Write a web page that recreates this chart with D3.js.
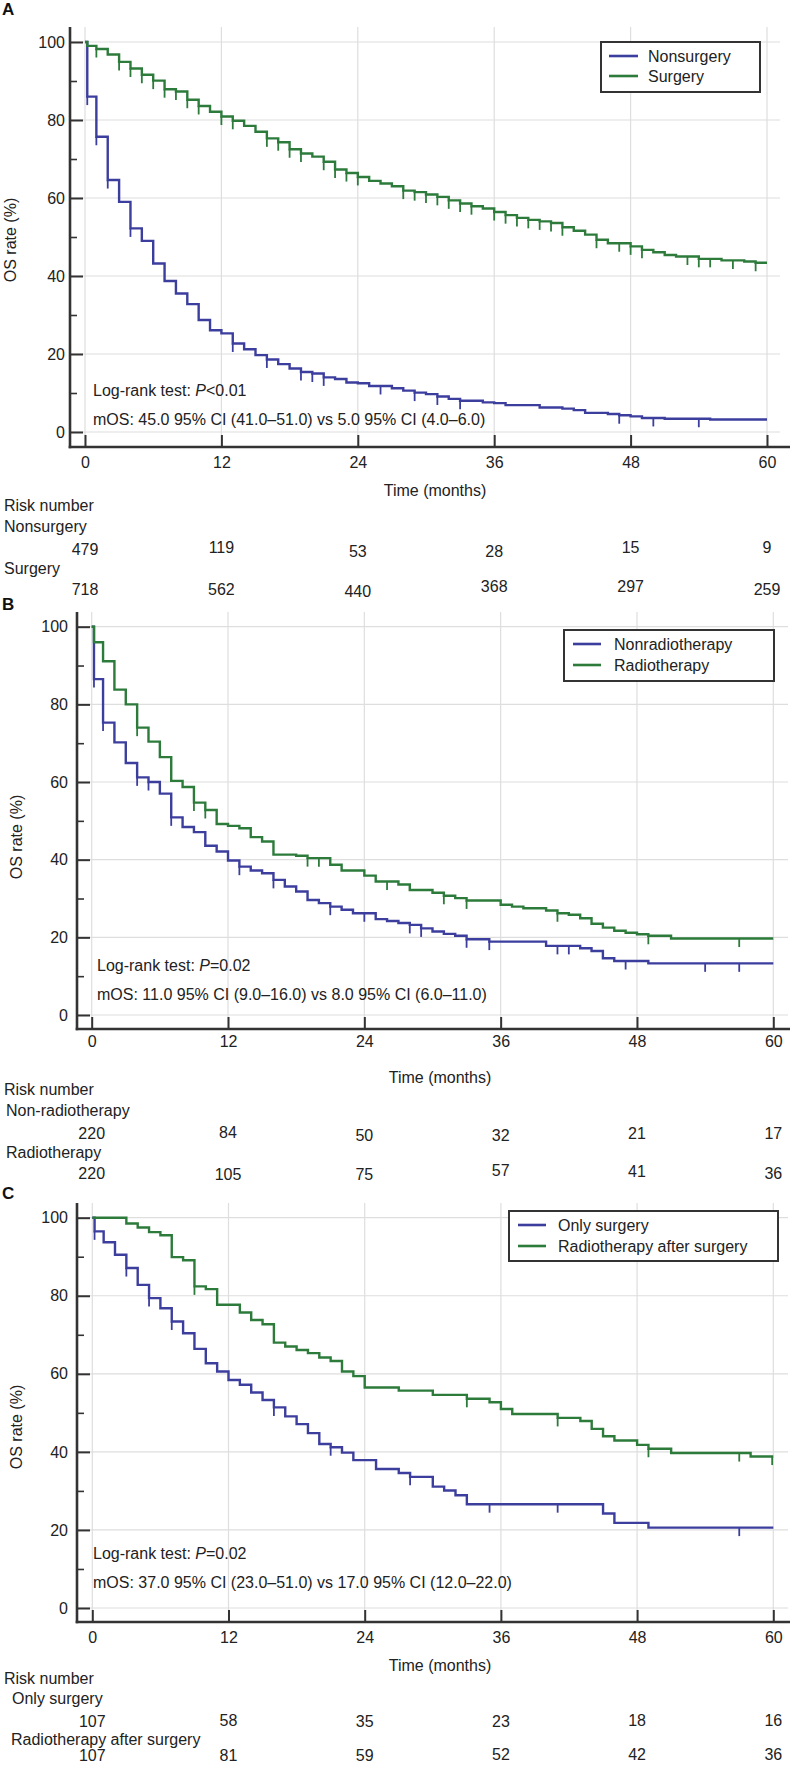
<!DOCTYPE html>
<html><head><meta charset="utf-8">
<script src="https://cdn.jsdelivr.net/npm/d3@7"></script>
<style>
body{margin:0;background:#fff;}
svg{display:block;font-family:"Liberation Sans",Arial,Helvetica,sans-serif;}
</style></head><body>
<svg id="chart" width="790" height="1765"></svg>
<script>
// ---------- shared ticks ----------
const xTicks=[0,12,24,36,48,60];
const yTicks=[0,20,40,60,80,100];
const yMinorTicks=[10,30,50,70,90];

// ---------- Panel A ----------
const aLegendLabels=["Nonsurgery","Surgery"];
const aRiskLabels=["Nonsurgery","Surgery"];
const aNonsurgTime=[0.2,1,2,3,4,5,6,7,8,9,10,11,12,13,14,15,16,17,18,19,20,21,22,23,24,25,27,28,29,30,31,32,33,35,36,37,40,42,43,44,46,47,48,49,51,55];
const aNonsurgSurv=[86.0,75.7,64.6,59.0,52.2,49.0,43.2,38.7,35.5,32.8,28.7,26.1,25.3,22.7,21.2,19.7,18.6,17.4,16.3,15.4,15.0,14.0,13.6,12.7,12.5,11.8,11.2,10.6,10.1,9.7,9.1,8.5,8.0,7.6,7.4,6.9,6.3,6.0,5.6,4.9,4.6,4.3,4.0,3.6,3.4,3.2];
const aNonsurgCensor=[0.2,1,2,4,13,16,19,20,21,26,29,31,33,47,50,54];
const aSurgTime=[0.2,1,2,3,4,5,6,7,8,9,10,11,12,13,14,15,16,17,18,19,20,21,22,23,24,25,26,27,28,29,30,31,32,33,34,35,36,37,38,39,40,41,42,43,44,45,46,48,49,50,51,52,54,56,58,59];
const aSurgSurv=[99,98.2,96.8,94.9,93.2,91.6,90.1,87.9,87.3,85.2,83.6,82.1,80.9,79.8,78.5,77.0,75.3,74.3,72.5,71.4,70.6,69.3,67.3,66.4,65.4,64.4,63.7,63.0,61.9,61.5,60.9,60.3,59.4,58.6,57.9,57.3,56.4,55.6,54.9,54.4,54.0,53.6,52.5,51.6,50.6,49.3,48.4,47.6,46.7,46.1,45.4,45.0,44.4,44.0,43.7,43.4];
const aSurgCensor=[1,3,4,5,6,7,8,9,10,12,13,16,17,18,19,21,22,23,24,28,29,30,31,32,33,34,36,37,38,39,40,41,42,45,47,48,49,53,54,55,57,59];
const aRisk1=[479,119,53,28,15,9];
const aRisk2=[718,562,440,368,297,259];
const aP="<0.01";
const aMOS="mOS: 45.0 95% CI (41.0\u201351.0) vs 5.0 95% CI (4.0\u20136.0)";

// ---------- Panel B ----------
const bLegendLabels=["Nonradiotherapy","Radiotherapy"];
const bRiskLabels=["Non-radiotherapy","Radiotherapy"];
const bNonradTime=[0.2,1,2,3,4,5,6,7,8,9,10,11,12,13,14,15,16,17,18,19,20,21,22,23,25,26,27,28,29,30,31,32,33,35,40,43,44,45,46,49];
const bNonradSurv=[86.5,75.3,70.2,64.9,61.2,60.0,57.0,50.9,48.4,47.1,43.6,42.1,39.8,38.2,37.2,36.5,34.8,33.1,31.8,29.6,28.8,27.9,27.1,26.2,24.7,24.2,23.7,23.2,22.3,21.5,20.9,20.4,19.5,18.9,17.8,17.2,16.5,14.6,13.9,13.3];
const bNonradCensor=[0.2,1,4,5,7,13,16,21,24,28,29,33,35,41,42,47,54,57];
const bRadTime=[0.2,1,2,3,4,5,6,7,8,9,10,11,12,13,14,15,16,18,19,21,22,24,25,27,28,30,31,32,33,36,37,38,40,41,42,43,44,45,46,47,48,49,51];
const bRadSurv=[96.0,91.1,83.8,80.0,74.0,70.4,66.4,60.3,58.7,54.7,52.8,49.2,48.7,48.1,45.8,44.7,41.3,41.0,40.4,38.7,37.2,35.9,34.4,33.6,32.2,31.5,30.7,30.1,29.5,28.4,27.9,27.5,26.9,26.2,25.8,24.9,23.5,22.5,21.7,21.2,20.8,20.4,19.7];
const bRadCensor=[4,9,10,19,20,26,31,33,41,49,57];
const bRisk1=[220,84,50,32,21,17];
const bRisk2=[220,105,75,57,41,36];
const bP="=0.02";
const bMOS="mOS: 11.0 95% CI (9.0\u201316.0) vs 8.0 95% CI (6.0\u201311.0)";

// ---------- Panel C ----------
const cLegendLabels=["Only surgery","Radiotherapy after surgery"];
const cRiskLabels=["Only surgery","Radiotherapy after surgery"];
const cOnlyTime=[0.2,1,2,3,4,5,6,7,8,9,10,11,12,13,14,15,16,17,18,19,20,21,22,23,25,27,28,30,31,32,33,45,46,49];
const cOnlySurv=[96.5,93.7,90.5,87.1,82.8,79.4,76.8,73.4,70.4,66.4,62.7,60.6,58.4,57.2,55.2,53.3,51.4,49.1,47.1,44.8,42.0,41.2,39.8,37.9,35.6,34.6,33.6,31.1,30.1,28.9,26.6,24.2,21.8,20.6];
const cOnlyCensor=[0.2,3,5,7,16,21,28,35,41,57];
const cRadTime=[3,4,5,6,7,8,9,10,11,13,14,15,16,17,18,19,20,21,22,23,24,27,30,33,35,36,37,41,43,44,45,46,48,49,51,58];
const cRadSurv=[98.5,97.5,96.3,95.5,89.9,89.1,82.4,81.7,77.7,75.7,73.8,72.7,68.0,67.0,66.1,65.3,64.2,63.3,60.6,59.4,56.5,55.7,54.6,53.6,52.7,51.0,49.7,48.7,47.9,45.9,44.0,42.9,41.8,40.8,39.7,38.8];
const cRadCensor=[9,33,41,49,57,59.9];
const cRisk1=[107,58,35,23,18,16];
const cRisk2=[107,81,59,52,42,36];
const cP="=0.02";
const cMOS="mOS: 37.0 95% CI (23.0\u201351.0) vs 17.0 95% CI (12.0\u201322.0)";

// ---------- styles ----------
const BLUE="#3c3e9e", GREEN="#2d7b3b", AXIS="#333", GRID="#dedede", TXT="#222";

const panels=[
 {letter:"A", legend:aLegendLabels, riskLabels:aRiskLabels, p:aP, mos:aMOS, risk:[aRisk1,aRisk2],
  series:[{t:aNonsurgTime,s:aNonsurgSurv,c:aNonsurgCensor,col:BLUE},{t:aSurgTime,s:aSurgSurv,c:aSurgCensor,col:GREEN}],
  L:{letterY:15, axisX:70, x0:85, x60:767, y0:432, y100:42, top:27, axisY:447, gridRight:780, yGap:5,
     xLab:462, timeX:435, timeY:490, titleX:10, titleY:240, textX:93, logY:390, mosY:419,
     riskY:505, g1Y:526, r1Y:549, g2Y:568, r2Y:589, g1X:4, g2X:4,
     j1:[0,-2,2,2,-2,-2], j2:[0,0,2,-3,-3,0],
     lg:{x:601,y:42,w:159,h:50,lx1:609,lx2:638,tx:648,ly1:56,ly2:76}}},
 {letter:"B", legend:bLegendLabels, riskLabels:bRiskLabels, p:bP, mos:bMOS, risk:[bRisk1,bRisk2],
  series:[{t:bNonradTime,s:bNonradSurv,c:bNonradCensor,col:BLUE},{t:bRadTime,s:bRadSurv,c:bRadCensor,col:GREEN}],
  L:{letterY:610, axisX:77, x0:91.7, x60:773.3, y0:1015, y100:626.7, top:612, axisY:1029, gridRight:788, yGap:9,
     xLab:1041, timeX:440, timeY:1077, titleX:16, titleY:837, textX:97, logY:965, mosY:994,
     riskY:1089, g1Y:1110, r1Y:1133, g2Y:1152, r2Y:1173, g1X:6, g2X:6,
     j1:[0,-1,2,2,0,0], j2:[0,1,1,-3,-2,0],
     lg:{x:564,y:630,w:210,h:51,lx1:573,lx2:601,tx:614,ly1:644,ly2:665}}},
 {letter:"C", legend:cLegendLabels, riskLabels:cRiskLabels, p:cP, mos:cMOS, risk:[cRisk1,cRisk2],
  series:[{t:cOnlyTime,s:cOnlySurv,c:cOnlyCensor,col:BLUE},{t:cRadTime,s:cRadSurv,c:cRadCensor,col:GREEN}],
  L:{letterY:1199, axisX:77, x0:92.3, x60:773.3, y0:1608, y100:1217.7, top:1203, axisY:1622, gridRight:788, yGap:9,
     xLab:1637, timeX:440, timeY:1665, titleX:16, titleY:1427, textX:93, logY:1553, mosY:1582,
     riskY:1678, g1Y:1698, r1Y:1721, g2Y:1739, r2Y:1755, g1X:12, g2X:11,
     j1:[0,-1,0,0,-1,-1], j2:[0,0,0,-1,-1,-1],
     lg:{x:509,y:1211,w:269,h:50,lx1:518,lx2:546,tx:558,ly1:1225,ly2:1246}}}
];

const svg=d3.select("#chart");
const FS=16;

function survAt(T,S,t){let v=100;for(let i=0;i<T.length;i++){if(T[i]<=t)v=S[i];}return v;}

panels.forEach(P=>{
  const L=P.L;
  const g=svg.append("g");
  const x=d3.scaleLinear().domain([0,60]).range([L.x0,L.x60]);
  const y=d3.scaleLinear().domain([0,100]).range([L.y0,L.y100]);

  // panel letter
  g.append("text").attr("x",2).attr("y",L.letterY).attr("font-size",17).attr("font-weight","bold")
   .attr("fill","#111").text(P.letter);

  // grid
  g.append("g").selectAll("line").data(xTicks).join("line")
   .attr("x1",d=>x(d)).attr("x2",d=>x(d)).attr("y1",L.top).attr("y2",L.axisY)
   .attr("stroke",GRID).attr("stroke-width",1.2);
  g.append("g").selectAll("line").data(yTicks).join("line")
   .attr("x1",L.axisX).attr("x2",L.gridRight).attr("y1",d=>y(d)).attr("y2",d=>y(d))
   .attr("stroke",GRID).attr("stroke-width",1.2);

  // curves
  const line=d3.line().x(d=>x(d[0])).y(d=>y(d[1])).curve(d3.curveStepAfter);
  P.series.forEach(se=>{
    const pts=[[0,100]].concat(se.t.map((t,i)=>[t,se.s[i]]));
    pts.push([60,se.s[se.s.length-1]]);
    g.append("path").datum(pts).attr("d",line).attr("fill","none")
     .attr("stroke",se.col).attr("stroke-width",2.4).attr("stroke-linejoin","miter");
    g.append("g").selectAll("line").data(se.c).join("line")
     .attr("x1",d=>x(d)).attr("x2",d=>x(d))
     .attr("y1",d=>y(survAt(se.t,se.s,d))).attr("y2",d=>y(survAt(se.t,se.s,d))+8.5)
     .attr("stroke",se.col).attr("stroke-width",1.8);
  });

  // y axis (ticks pointing inward)
  const yAx=d3.axisLeft(y).tickValues(yTicks).tickSize(-13).tickPadding(L.yGap).tickFormat(d3.format("d"));
  const ya=g.append("g").attr("transform",`translate(${L.axisX},0)`).call(yAx);
  ya.select(".domain").remove();
  ya.selectAll(".tick line").attr("stroke",AXIS).attr("stroke-width",2);
  ya.selectAll(".tick text").attr("font-size",FS).attr("font-family",null).attr("fill",TXT);
  const yMin=d3.axisLeft(y).tickValues(yMinorTicks).tickSize(-7).tickFormat("");
  const ym=g.append("g").attr("transform",`translate(${L.axisX},0)`).call(yMin);
  ym.select(".domain").remove();
  ym.selectAll(".tick line").attr("stroke",AXIS).attr("stroke-width",1.6);

  // x axis (ticks pointing up)
  const xAx=d3.axisBottom(x).tickValues(xTicks).tickSize(-12).tickPadding(0).tickFormat(d3.format("d"));
  const xa=g.append("g").attr("transform",`translate(0,${L.axisY})`).call(xAx);
  xa.select(".domain").remove();
  xa.selectAll(".tick line").attr("stroke",AXIS).attr("stroke-width",2);
  xa.selectAll(".tick text").attr("font-size",FS).attr("font-family",null).attr("fill",TXT)
    .attr("y",L.xLab-L.axisY).attr("dy","0.35em");

  // axis lines
  g.append("line").attr("x1",L.axisX).attr("x2",L.axisX).attr("y1",L.top).attr("y2",L.axisY+1.3)
   .attr("stroke",AXIS).attr("stroke-width",2.6);
  g.append("line").attr("x1",L.axisX-1.3).attr("x2",790).attr("y1",L.axisY).attr("y2",L.axisY)
   .attr("stroke",AXIS).attr("stroke-width",2.6);

  // axis titles
  g.append("text").attr("transform",`translate(${L.titleX},${L.titleY}) rotate(-90)`)
   .attr("text-anchor","middle").attr("dy","0.35em").attr("font-size",FS).attr("fill",TXT).text("OS rate (%)");
  g.append("text").attr("x",L.timeX).attr("y",L.timeY).attr("dy","0.35em").attr("text-anchor","middle")
   .attr("font-size",FS).attr("fill",TXT).text("Time (months)");

  // stats text
  const lr=g.append("text").attr("x",L.textX).attr("y",L.logY).attr("dy","0.35em").attr("font-size",FS).attr("fill",TXT);
  lr.append("tspan").text("Log-rank test: ");
  lr.append("tspan").attr("font-style","italic").text("P");
  lr.append("tspan").text(P.p);
  g.append("text").attr("x",L.textX).attr("y",L.mosY).attr("dy","0.35em").attr("font-size",FS).attr("fill",TXT).text(P.mos);

  // legend
  const lg=L.lg;
  g.append("rect").attr("x",lg.x).attr("y",lg.y).attr("width",lg.w).attr("height",lg.h)
   .attr("fill","#fff").attr("stroke",AXIS).attr("stroke-width",2);
  const ly=[lg.ly1,lg.ly2];
  P.legend.forEach((lab,i)=>{
    g.append("line").attr("x1",lg.lx1).attr("x2",lg.lx2).attr("y1",ly[i]).attr("y2",ly[i])
     .attr("stroke",P.series[i].col).attr("stroke-width",2.6);
    g.append("text").attr("x",lg.tx).attr("y",ly[i]).attr("dy","0.35em").attr("font-size",FS).attr("fill",TXT).text(lab);
  });

  // risk table
  g.append("text").attr("x",4).attr("y",L.riskY).attr("dy","0.35em").attr("font-size",FS).attr("fill",TXT).text("Risk number");
  g.append("text").attr("x",L.g1X).attr("y",L.g1Y).attr("dy","0.35em").attr("font-size",FS).attr("fill",TXT).text(P.riskLabels[0]);
  g.append("text").attr("x",L.g2X).attr("y",L.g2Y).attr("dy","0.35em").attr("font-size",FS).attr("fill",TXT).text(P.riskLabels[1]);
  [[P.risk[0],L.r1Y,L.j1],[P.risk[1],L.r2Y,L.j2]].forEach(([vals,ry,jit])=>{
    g.append("g").selectAll("text").data(vals).join("text")
     .attr("x",(d,i)=>x(xTicks[i])).attr("y",(d,i)=>ry+jit[i]).attr("dy","0.35em")
     .attr("text-anchor","middle").attr("font-size",FS).attr("fill",TXT).text(d=>d);
  });
});
</script></body></html>
